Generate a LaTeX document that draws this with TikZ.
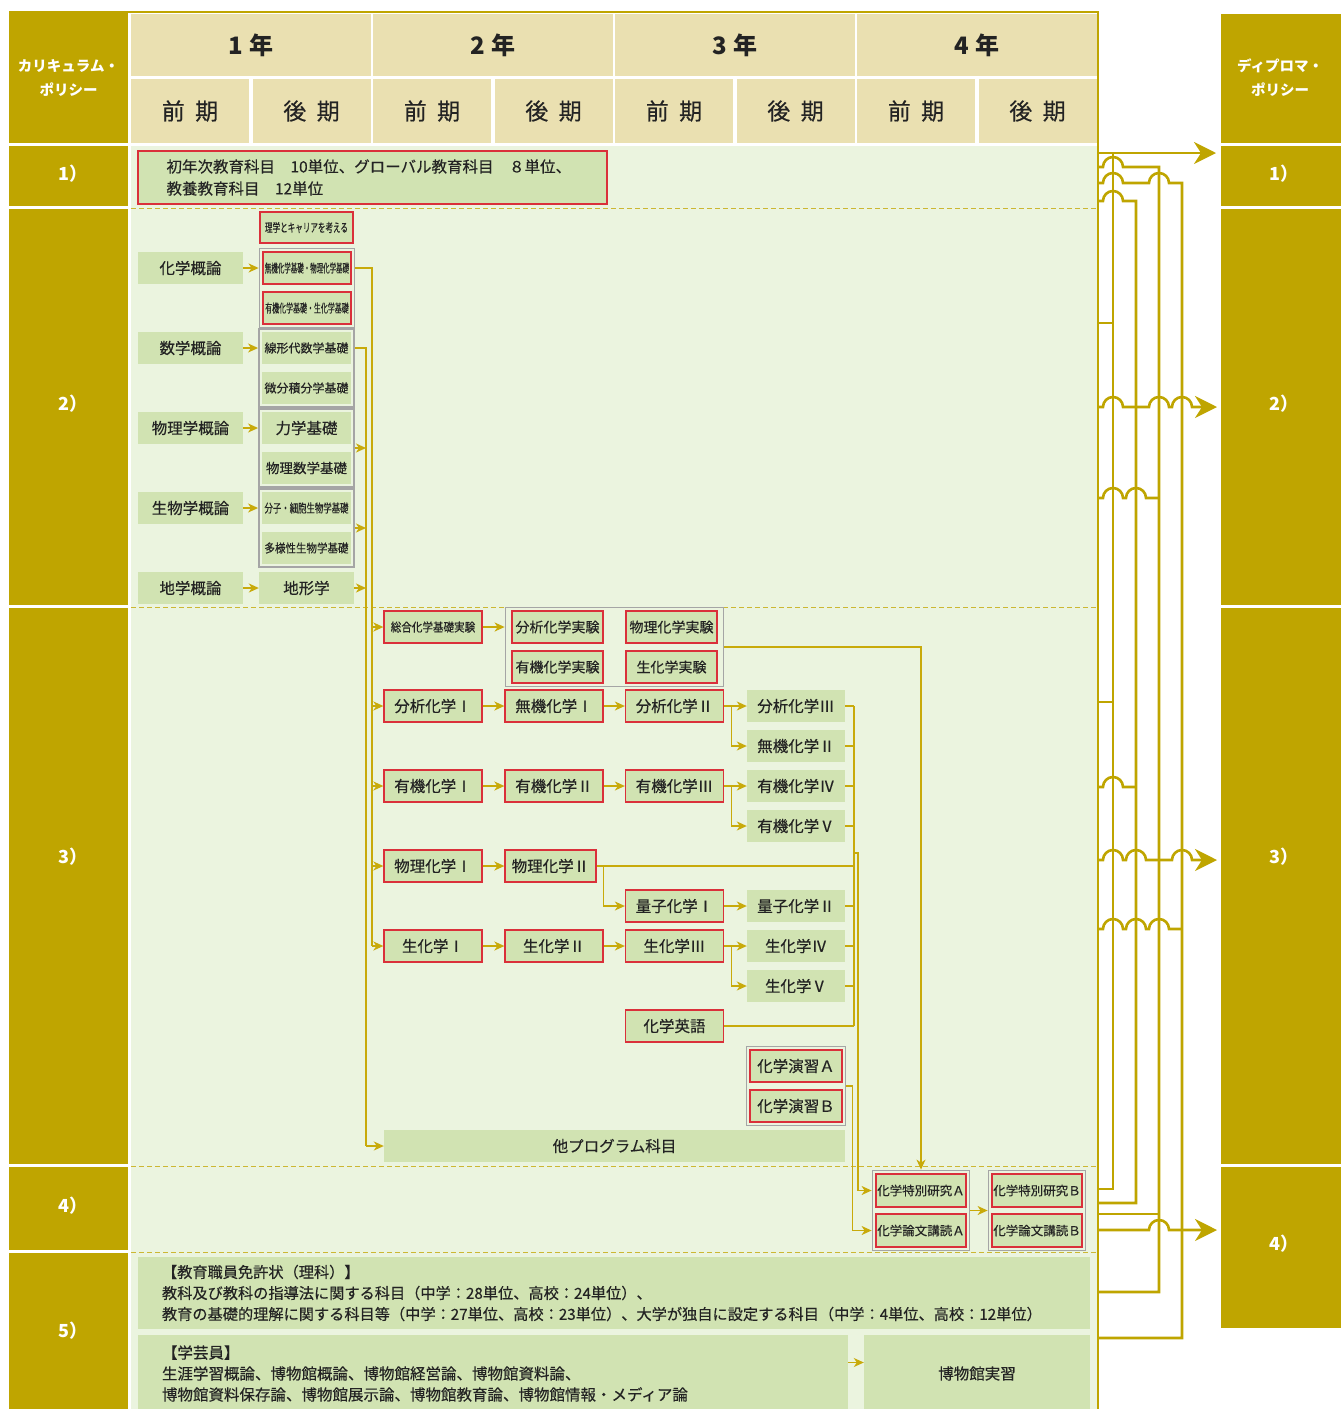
\documentclass[tikz,border=0pt]{standalone}
\usepackage{fontspec}
\setmainfont{Noto Sans CJK JP}
\newfontfamily\jpm[FakeBold=0.35]{Noto Sans CJK JP}
\usepackage{graphicx}
\usetikzlibrary{arrows.meta,fit}

\definecolor{dpgold}{RGB}{191,165,0}
\definecolor{hdrbeige}{RGB}{234,224,177}
\definecolor{bodygreen}{RGB}{235,244,223}
\definecolor{boxgreen}{RGB}{209,227,178}
\definecolor{boxred}{RGB}{218,48,58}
\definecolor{grpgrey}{RGB}{165,165,165}
\definecolor{linegold}{RGB}{200,170,10}
\definecolor{txtgrey}{RGB}{35,35,35}

\newcommand{\nar}[2]{\scalebox{#1}[1]{#2}}
\newcommand{\fs}[1]{\jpm\fontsize{#1}{#1}\selectfont}

\begin{document}
\begin{tikzpicture}[x=1pt, y=-1pt,
    box/.style={fill=boxgreen, text=txtgrey, inner sep=0pt, minimum width=98pt, minimum height=32pt, font=\fs{15.5}},
    rbox/.style={box, draw=boxred, line width=1.3pt},
    grp/.style={draw=grpgrey, line width=1.5pt, inner sep=3pt},
    ln/.style={draw=linegold, line width=1.3pt},
    arr/.style={ln, -{Stealth[length=10pt, width=9pt, inset=3pt]}},
    bus/.style={draw=dpgold, line width=2.6pt},
    bigarr/.style={bus, -{Stealth[length=22pt, width=22pt, inset=7pt]}},
    lbl/.style={text=white, font=\bfseries\fontsize{18}{18}\selectfont},
    yearcell/.style={fill=hdrbeige, text=txtgrey, minimum width=240pt, minimum height=62pt, font=\bfseries\fontsize{24}{24}\selectfont},
    semcell/.style={fill=hdrbeige, text=txtgrey, minimum width=118pt, minimum height=64pt, font=\fs{23}},
    sepline/.style={draw=dpgold!80, line width=1pt, dash pattern=on 5pt off 3pt}
]
\useasboundingbox (0,0) rectangle (1341,1409);

% frame and background
\fill[bodygreen] (131,146) rectangle (1097,1409);
\draw[dpgold, line width=2pt] (9,12) -- (1098,12);
\draw[bus] (1098,11) -- (1098,1409);
\foreach \y in {208,607,1166,1252} \draw[sepline] (131,\y) -- (1097,\y);

% header
\foreach \i in {0,1,2,3} {
  \pgfmathtruncatemacro\yr{\i+1}
  \node[yearcell] (yr\yr) at ({251+242*\i},45) {\yr\hspace{0.25em}年};
  \node[semcell] (zen\yr) at ({190+242*\i},111) {前\hspace{0.45em}期};
  \node[semcell] (kou\yr) at ({311.5+242*\i},111) {後\hspace{0.45em}期};
}

% curriculum policy column
\fill[dpgold] (9,12) rectangle (128,143);
\node[lbl, align=center, font=\bfseries\fontsize{14.5}{24}\selectfont] (cp) at (68.5,78) {カリキュラム・\\ポリシー};
\foreach \t/\ya/\yb/\yl in {1/146/206/174, 2/209/605/404, 3/608/1164/857, 4/1167/1250/1206, 5/1253/1409/1331} {
  \fill[dpgold] (9,\ya) rectangle (128,\yb);
  \node[lbl] (cp\t) at (73,\yl) {\t）};
}

% diploma policy column
\fill[dpgold] (1221,14) rectangle (1341,143);
\node[lbl, align=center, font=\bfseries\fontsize{14.5}{24}\selectfont] (dp) at (1280,78) {ディプロマ・\\ポリシー};
\foreach \t/\ya/\yb/\yl in {1/146/206/174, 2/209/605/404, 3/608/1164/857, 4/1167/1328/1244} {
  \fill[dpgold] (1221,\ya) rectangle (1341,\yb);
  \node[lbl] (dp\t) at (1284,\yl) {\t）};
}

% 1)
\node[rbox, minimum width=469pt, minimum height=53pt, text width=412pt, align=left,
  font=\jpm\fontsize{15.5}{22}\selectfont] (s1) at (372.5,177.5)
  {初年次教育科目　10単位、グローバル教育科目　８単位、\\教養教育科目　12単位};

% 2)
\node[rbox, minimum width=93pt, minimum height=31pt, font=\fs{12}] (riga) at (306.5,227.5) {\nar{0.63}{理学とキャリアを考える}};
\node[box, minimum width=105pt] (kagaku) at (190.5,268) {化学概論};
\node[rbox, minimum width=88pt, font=\fs{12}] (mki) at (307,268) {\nar{0.54}{無機化学基礎・物理化学基礎}};
\node[rbox, minimum width=88pt, font=\fs{12}] (yki) at (307,308) {\nar{0.58}{有機化学基礎・生化学基礎}};
\node[grp, fit=(mki)(yki)] (gchem) {};
\node[box, minimum width=105pt] (suugaku) at (190.5,348) {数学概論};
\node[box, minimum width=89pt, font=\fs{12}] (senkei) at (306.5,348) {線形代数学基礎};
\node[box, minimum width=89pt, font=\fs{12}] (bibun) at (306.5,388) {微分積分学基礎};
\node[grp, fit=(senkei)(bibun)] (gmath) {};
\node[box, minimum width=105pt] (butsuri) at (190.5,428) {物理学概論};
\node[box, minimum width=89pt] (rikigaku) at (306.5,428) {力学基礎};
\node[box, minimum width=89pt, font=\fs{13.5}] (bsugaku) at (306.5,468) {物理数学基礎};
\node[grp, fit=(rikigaku)(bsugaku)] (gphys) {};
\node[box, minimum width=105pt] (seibutsu) at (190.5,508) {生物学概論};
\node[box, minimum width=89pt, font=\fs{12}] (bunshi) at (306.5,508) {\nar{0.7}{分子・細胞生物学基礎}};
\node[box, minimum width=89pt, font=\fs{12}] (tayou) at (306.5,548) {\nar{0.875}{多様性生物学基礎}};
\node[grp, fit=(bunshi)(tayou)] (gbio) {};
\node[box, minimum width=105pt] (chigaku) at (190.5,588) {地学概論};
\node[box, minimum width=95pt] (chikei) at (306.5,588) {地形学};

\foreach \a/\b in {kagaku/gchem, suugaku/gmath, butsuri/gphys, seibutsu/gbio, chigaku/chikei}
  \draw[arr] (\a.east) -- (\a.east -| \b.west);

% 3)
\node[rbox, font=\fs{12}] (sogo) at (433,627) {\nar{0.88}{総合化学基礎実験}};
\node[rbox, minimum width=91pt, font=\fs{14}] (bjik) at (557.5,627) {分析化学実験};
\node[rbox, minimum width=91pt, font=\fs{14}] (pjik) at (671.5,627) {物理化学実験};
\node[rbox, minimum width=91pt, font=\fs{14}] (yjik) at (557.5,667) {有機化学実験};
\node[rbox, minimum width=91pt, font=\fs{14}] (sjik) at (671.5,667) {生化学実験};
\node[grp, fit=(bjik)(pjik)(yjik)(sjik), inner xsep=6pt] (gexp) {};

\node[rbox] (bun1) at (433,706) {分析化学Ⅰ};
\node[rbox] (muki1) at (554,706) {無機化学Ⅰ};
\node[rbox] (bun2) at (674.5,706) {分析化学Ⅱ};
\node[box] (bun3) at (796,706) {分析化学Ⅲ};
\node[box] (muki2) at (796,746) {無機化学Ⅱ};
\node[rbox] (yuki1) at (433,786) {有機化学Ⅰ};
\node[rbox] (yuki2) at (554,786) {有機化学Ⅱ};
\node[rbox] (yuki3) at (674.5,786) {有機化学Ⅲ};
\node[box] (yuki4) at (796,786) {有機化学Ⅳ};
\node[box] (yuki5) at (796,826) {有機化学Ⅴ};
\node[rbox] (phys1) at (433,866) {物理化学Ⅰ};
\node[rbox, minimum width=91pt] (phys2) at (550.5,866) {物理化学Ⅱ};
\node[rbox] (ryo1) at (674.5,906) {量子化学Ⅰ};
\node[box] (ryo2) at (796,906) {量子化学Ⅱ};
\node[rbox] (sei1) at (433,946) {生化学Ⅰ};
\node[rbox] (sei2) at (554,946) {生化学Ⅱ};
\node[rbox] (sei3) at (674.5,946) {生化学Ⅲ};
\node[box] (sei4) at (796,946) {生化学Ⅳ};
\node[box] (sei5) at (796,986) {生化学Ⅴ};
\node[rbox] (eigo) at (674.5,1026) {化学英語};
\node[rbox, minimum width=92pt] (enA) at (796,1066) {化学演習Ａ};
\node[rbox, minimum width=92pt] (enB) at (796,1106) {化学演習Ｂ};
\node[grp, fit=(enA)(enB)] (genshu) {};
\node[box, minimum width=461pt] (other) at (614.5,1146) {他プログラム科目};

% 4)
\node[rbox, minimum width=90pt, minimum height=33pt, font=\fs{12.5}] (tokA) at (921,1190.5) {化学特別研究Ａ};
\node[rbox, minimum width=90pt, minimum height=33pt, font=\fs{12.5}] (ronA) at (921,1230.5) {化学論文講読Ａ};
\node[grp, fit=(tokA)(ronA)] (gA) {};
\node[rbox, minimum width=90pt, minimum height=33pt, font=\fs{12.5}] (tokB) at (1037,1190.5) {化学特別研究Ｂ};
\node[rbox, minimum width=90pt, minimum height=33pt, font=\fs{12.5}] (ronB) at (1037,1230.5) {化学論文講読Ｂ};
\node[grp, fit=(tokB)(ronB)] (gB) {};

% 5)
\node[box, minimum width=952pt, minimum height=72pt, text width=904pt, align=left,
  font=\jpm\fontsize{15.2}{21}\selectfont] (kyoshoku) at (614,1293)
  {【教育職員免許状（理科）】\\
   教科及び教科の指導法に関する科目（中学：28単位、高校：24単位）、\\
   教育の基礎的理解に関する科目等（中学：27単位、高校：23単位）、大学が独自に設定する科目（中学：4単位、高校：12単位）};
\node[box, minimum width=710pt, minimum height=77pt, text width=662pt, align=left,
  font=\jpm\fontsize{15.5}{21}\selectfont] (gakugei) at (493,1373.5)
  {【学芸員】\\
   生涯学習概論、博物館概論、博物館経営論、博物館資料論、\\
   博物館資料保存論、博物館展示論、博物館教育論、博物館情報・メディア論};
\node[box, minimum width=226pt, minimum height=77pt] (jisshu) at (977,1373.5) {博物館実習};

% connectors in the table
\coordinate (busA) at (372,268);
\coordinate (busB) at (366,348);
\coordinate (colR) at (854,706);
\coordinate (jog) at (858,853);
\draw[ln] (gchem.east |- mki) -- (busA) -- (busA |- sei1);
\draw[ln] (gmath.east |- senkei) -- (busB) -- (busB |- other);
\foreach \n in {gphys,gbio,chikei} \draw[arr] (\n.east) -- (\n.east -| busB);
\foreach \n in {sogo,bun1,yuki1,phys1,sei1} \draw[arr] (busA |- \n) -- (\n.west);
\draw[arr] (busB |- other) -- (other.west);

\draw[arr] (sogo.east) -- (sogo.east -| gexp.west);
\draw[arr] (bun1) -- (muki1);
\draw[arr] (muki1) -- (bun2);
\draw[arr] (bun2) -- (bun3);
\draw[arr] (bun2.east) -- ++(7,0) |- (muki2.west);
\draw[arr] (yuki1) -- (yuki2);
\draw[arr] (yuki2) -- (yuki3);
\draw[arr] (yuki3) -- (yuki4);
\draw[arr] (yuki3.east) -- ++(7,0) |- (yuki5.west);
\draw[arr] (phys1) -- (phys2);
\draw[arr] ([xshift=7pt]phys2.east) |- (ryo1.west);
\draw[arr] (ryo1) -- (ryo2);
\draw[arr] (sei1) -- (sei2);
\draw[arr] (sei2) -- (sei3);
\draw[arr] (sei3) -- (sei4);
\draw[arr] (sei3.east) -- ++(7,0) |- (sei5.west);

\foreach \n in {bun3,muki2,yuki4,yuki5,phys2,ryo2,sei4,sei5,eigo} \draw[ln] (\n.east) -- (\n.east -| colR);
\draw[ln] (colR) -- (colR |- eigo);
\draw[arr] (colR |- jog) -- (jog) |- (gA.west |- tokA);
\draw[arr] (genshu.east) -- ++(6,0) |- (gA.west |- ronA);
\draw[arr] (gexp.east) -| (gA.north);
\draw[arr] (gA) -- (gB);
\draw[arr] ([yshift=11pt]gakugei.east) -- ([yshift=11pt]jisshu.west);

% links to the diploma policy
\coordinate (in1) at (1216,153);
\coordinate (in2) at (1217,407);
\coordinate (in3) at (1217,860);
\coordinate (in4) at (1217,1230);
\draw[bigarr] (1098,153) -- (in1);
\draw[bus] (1113,153) -- (1113,1189) -- (1098,1189);
\draw[bus] (1098,167) -- (1103,167) arc (180:360:10) -- (1159,167) -- (1159,1292) -- (1098,1292);
\draw[bus] (1098,183) -- (1103,183) arc (180:360:10) -- (1149,183) arc (180:360:10) -- (1182,183) -- (1182,1338) -- (1098,1338);
\draw[bus] (1098,201) -- (1103,201) arc (180:360:10) -- (1136,201) -- (1136,1203) -- (1098,1203);
\draw[bus] (1098,323) -- (1113,323);
\draw[bigarr] (1098,407) -- (1103,407) arc (180:360:10) -- (1149,407) arc (180:360:10) -- (1172,407) arc (180:360:10) -- (in2);
\draw[bus] (1098,498) -- (1103,498) arc (180:360:10) -- (1126,498) arc (180:360:10) -- (1159,498);
\draw[bus] (1098,702) -- (1113,702);
\draw[bus] (1098,787) -- (1103,787) arc (180:360:10) -- (1136,787);
\draw[bigarr] (1098,860) -- (1103,860) arc (180:360:10) -- (1126,860) arc (180:360:10) -- (1172,860) arc (180:360:10) -- (in3);
\draw[bus] (1098,929) -- (1103,929) arc (180:360:10) -- (1126,929) arc (180:360:10) -- (1149,929) arc (180:360:10) -- (1182,929);
\draw[bus] (1098,1214) -- (1159,1214);
\draw[bigarr] (1098,1230) -- (1149,1230) arc (180:360:10) -- (in4);
\end{tikzpicture}
\end{document}
